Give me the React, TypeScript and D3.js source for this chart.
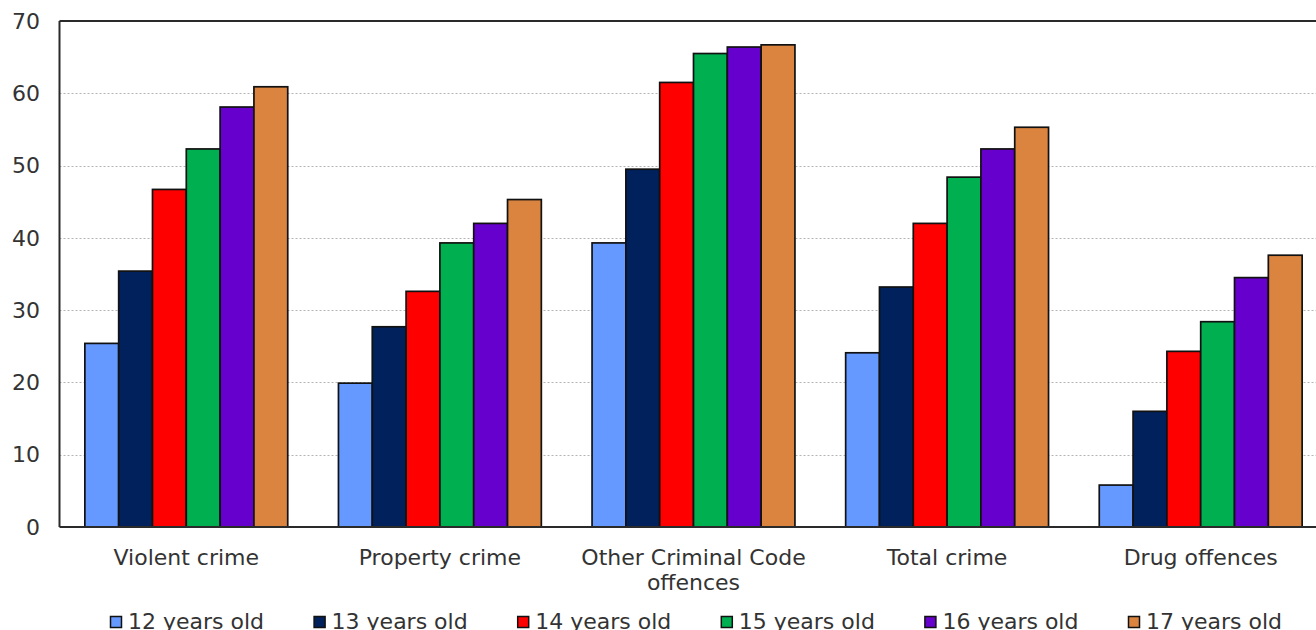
import React, { useEffect, useRef } from "react";
import * as d3 from "d3";

// Offence categories shown along the x axis
const categories: string[] = [
  "Violent crime",
  "Property crime",
  "Other Criminal Code offences",
  "Total crime",
  "Drug offences",
];

// Age groups (one bar per age within each category)
const ageGroups: string[] = [
  "12 years old",
  "13 years old",
  "14 years old",
  "15 years old",
  "16 years old",
  "17 years old",
];

// Values per age group, in category order
const age12: number[] = [25.4, 19.9, 39.3, 24.1, 5.8];
const age13: number[] = [35.4, 27.7, 49.5, 33.2, 16.0];
const age14: number[] = [46.7, 32.6, 61.5, 42.0, 24.3];
const age15: number[] = [52.3, 39.3, 65.5, 48.4, 28.4];
const age16: number[] = [58.1, 42.0, 66.4, 52.3, 34.5];
const age17: number[] = [60.9, 45.3, 66.7, 55.3, 37.6];

const yTicks: number[] = [0, 10, 20, 30, 40, 50, 60, 70];

const seriesColors: string[] = [
  "#6699FF",
  "#00215B",
  "#FF0000",
  "#00AF50",
  "#6600CC",
  "#DA8440",
];

const WIDTH = 1316;
const HEIGHT = 630;
const FONT = "'DejaVu Sans', Verdana, sans-serif";
const FONT_SIZE = 22;

export default function App() {
  const ref = useRef<SVGSVGElement | null>(null);

  useEffect(() => {
    const svg = d3.select(ref.current);
    svg.selectAll("*").remove();

    const series = [age12, age13, age14, age15, age16, age17];

    const plotLeft = 59.5;
    const plotTop = 21;
    const plotBottom = 527;
    const plotRight = plotLeft + 5 * 253.6;

    const x0 = d3
      .scaleBand<string>()
      .domain(categories)
      .range([plotLeft, plotRight])
      .paddingInner(0.2)
      .paddingOuter(0.1);

    const x1 = d3
      .scaleBand<string>()
      .domain(ageGroups)
      .range([0, x0.bandwidth()])
      .padding(0);

    const y = d3.scaleLinear().domain([0, 70]).range([plotBottom, plotTop]);

    const g = svg.append("g");

    // horizontal dashed gridlines
    g.selectAll("line.grid")
      .data(yTicks.filter((t) => t > 0 && t < 70))
      .enter()
      .append("line")
      .attr("class", "grid")
      .attr("x1", plotLeft)
      .attr("x2", plotRight)
      .attr("y1", (d) => Math.round(y(d)) + 0.5)
      .attr("y2", (d) => Math.round(y(d)) + 0.5)
      .attr("stroke", "#b4b4b4")
      .attr("stroke-width", 1)
      .attr("stroke-dasharray", "2,2");

    // bars
    const groups = g
      .selectAll("g.cat")
      .data(categories)
      .enter()
      .append("g")
      .attr("class", "cat")
      .attr("transform", (d) => `translate(${x0(d)},0)`);

    groups
      .selectAll("rect")
      .data((_, ci) =>
        ageGroups.map((a, si) => ({ age: a, si, value: series[si][ci] }))
      )
      .enter()
      .append("rect")
      .attr("x", (d) => x1(d.age) as number)
      .attr("width", x1.bandwidth())
      .attr("y", (d) => y(d.value))
      .attr("height", (d) => y(0) - y(d.value))
      .attr("fill", (d) => seriesColors[d.si])
      .attr("stroke", "#111")
      .attr("stroke-width", 1.7);

    // plot frame: left, top and baseline
    const frame = "#2a2a2a";
    g.append("line")
      .attr("x1", plotLeft)
      .attr("x2", plotLeft)
      .attr("y1", plotTop)
      .attr("y2", plotBottom)
      .attr("stroke", frame)
      .attr("stroke-width", 2);
    g.append("line")
      .attr("x1", plotLeft)
      .attr("x2", plotRight)
      .attr("y1", plotTop)
      .attr("y2", plotTop)
      .attr("stroke", frame)
      .attr("stroke-width", 2);
    g.append("line")
      .attr("x1", plotLeft)
      .attr("x2", plotRight)
      .attr("y1", plotBottom)
      .attr("y2", plotBottom)
      .attr("stroke", frame)
      .attr("stroke-width", 2);

    // y tick labels
    g.selectAll("text.ytick")
      .data(yTicks)
      .enter()
      .append("text")
      .attr("class", "ytick")
      .attr("x", 40)
      .attr("y", (d) => y(d))
      .attr("dy", "0.35em")
      .attr("text-anchor", "end")
      .attr("font-family", FONT)
      .attr("font-size", FONT_SIZE)
      .attr("fill", "#333")
      .text((d) => d);

    // category labels, wrapped to the band width
    const maxLabelWidth = x0.step() * 0.95;
    categories.forEach((cat) => {
      const cx = (x0(cat) as number) + x0.bandwidth() / 2;
      const text = g
        .append("text")
        .attr("x", cx)
        .attr("y", 565)
        .attr("text-anchor", "middle")
        .attr("font-family", FONT)
        .attr("font-size", FONT_SIZE)
        .attr("fill", "#333");
      const words = cat.split(" ");
      let line: string[] = [];
      let lineNo = 0;
      let tspan = text.append("tspan").attr("x", cx).attr("y", 565);
      words.forEach((w) => {
        line.push(w);
        tspan.text(line.join(" "));
        const node = tspan.node() as SVGTSpanElement;
        if (node.getComputedTextLength() > maxLabelWidth && line.length > 1) {
          line.pop();
          tspan.text(line.join(" "));
          line = [w];
          lineNo += 1;
          tspan = text
            .append("tspan")
            .attr("x", cx)
            .attr("y", 565 + lineNo * 25)
            .text(w);
        }
      });
    });

    // legend
    const legend = g.append("g");
    ageGroups.forEach((a, i) => {
      const lx = 110 + i * 203.6;
      legend
        .append("rect")
        .attr("x", lx + 0.5)
        .attr("y", 616.5)
        .attr("width", 11)
        .attr("height", 11)
        .attr("fill", seriesColors[i])
        .attr("stroke", "#111")
        .attr("stroke-width", 1.5);
      legend
        .append("text")
        .attr("x", lx + 18)
        .attr("y", 628.5)
        .attr("font-family", FONT)
        .attr("font-size", FONT_SIZE)
        .attr("fill", "#333")
        .text(a);
    });
  }, []);

  return (
    <svg
      ref={ref}
      width={WIDTH}
      height={HEIGHT}
      style={{
        position: "absolute",
        left: 0,
        top: 0,
        display: "block",
        background: "#fff",
        overflow: "hidden",
      }}
    />
  );
}
